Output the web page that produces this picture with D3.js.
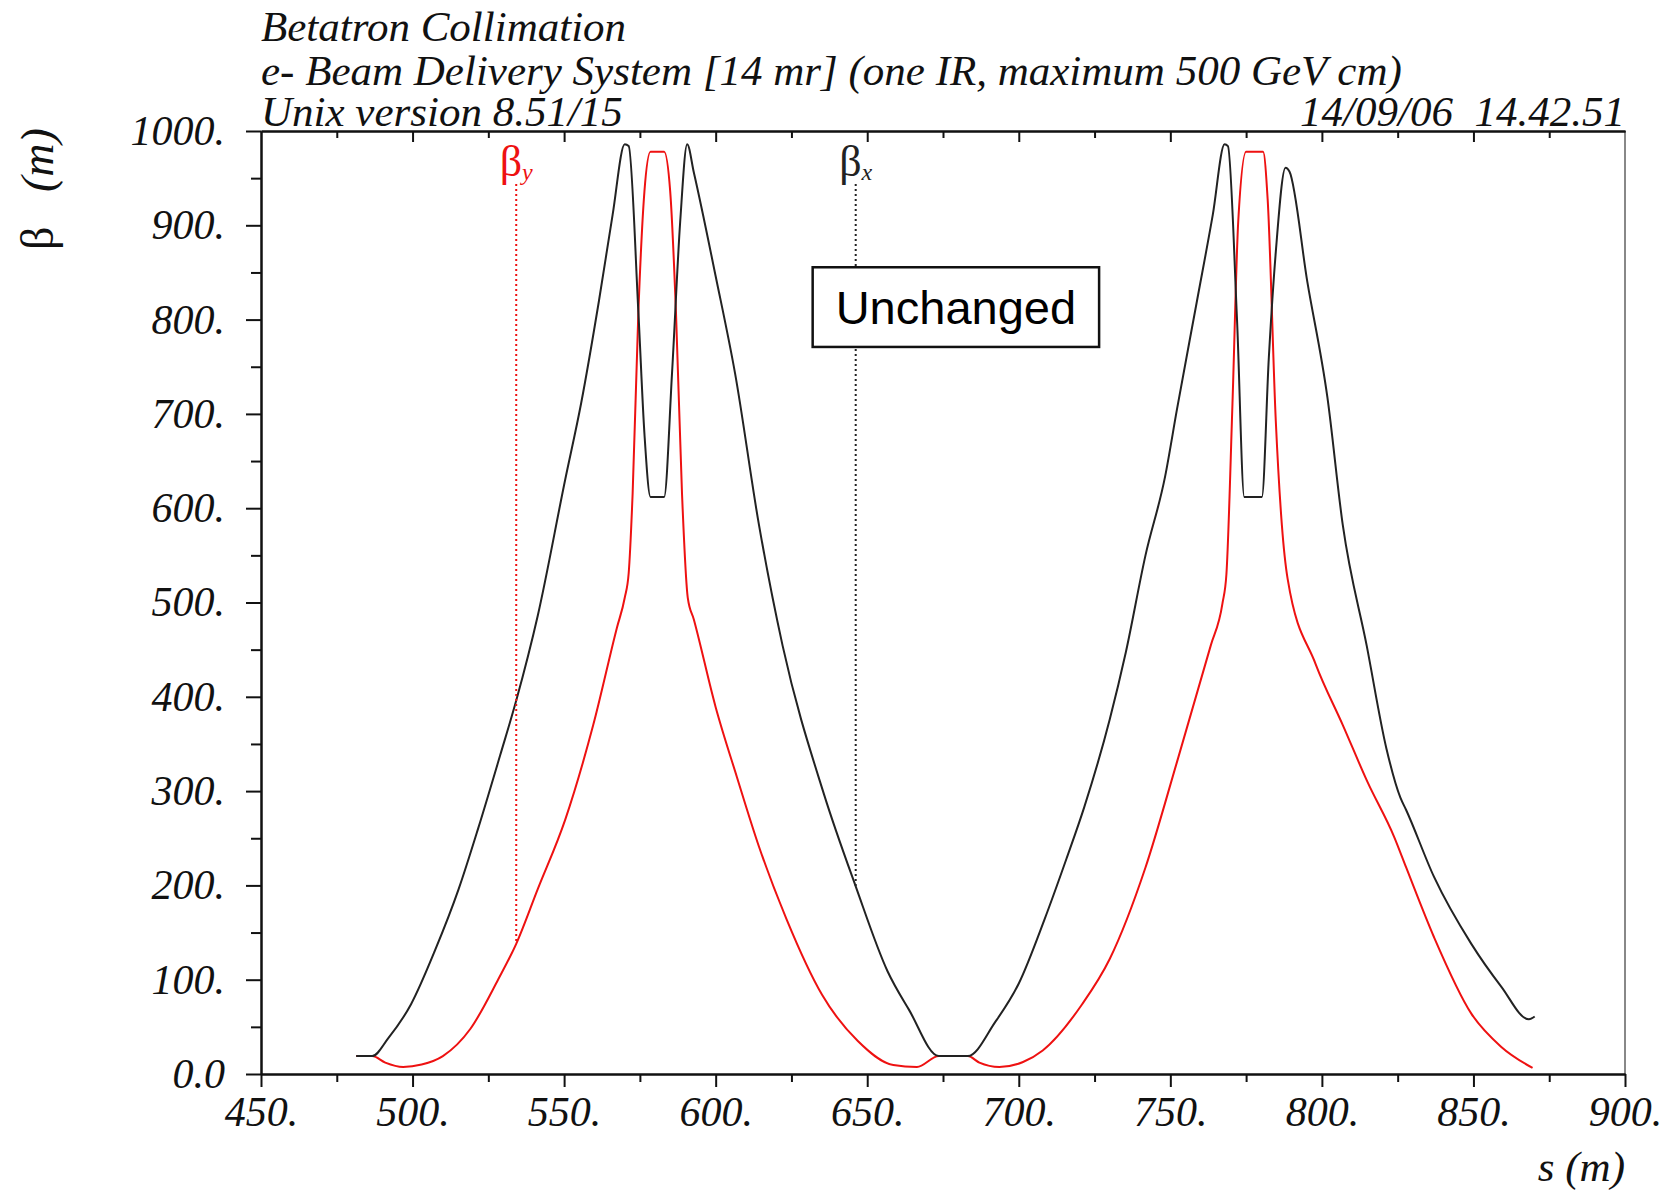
<!DOCTYPE html>
<html>
<head>
<meta charset="utf-8">
<script src="https://cdn.jsdelivr.net/npm/d3@7"></script>
<style>
  body { margin: 0; background: #fff; }
  svg { display: block; }
  .serif { font-family: "Liberation Serif", "Times New Roman", serif; font-style: italic; fill: #111; }
</style>
</head>
<body>
<svg id="chart" width="1669" height="1193"></svg>
<script>
// beta_x (black) : s (m) and beta (m)
var sX = [481.4, 486.7, 492, 499.5, 507.4, 515.2, 521.7, 528.9, 534.2, 541.3, 550.4, 555.6, 561.5, 566, 570, 571.3,
  574.5, 576.5, 578.5, 583, 585.6, 588.3, 590.6, 592.8, 600, 606.4, 614.3, 622.1, 635.8, 646.2, 656.7, 663.8, 673.6,
  683.2, 692.2, 700, 708.5, 715.7, 721.6, 730, 735.3, 741.8, 748.3, 752.2, 758.8, 764, 767.9, 769, 772, 774.4, 780.2,
  782.5, 784.8, 788, 789.3, 795.2, 801.8, 806.9, 814.8, 821.3, 825.9, 827.8, 837, 849.3, 859.1, 868.3, 870.2];
var betaX = [19, 19, 38, 74, 131, 196, 261, 338, 396, 486, 631, 711, 820, 911, 986, 984,
  808, 679, 612, 612, 743, 904, 986, 956, 846, 743, 582, 454, 296, 199, 109, 68, 19,
  19, 55, 96, 164, 228, 283, 376, 447, 550, 634, 705, 820, 911, 986, 984, 800, 612, 612,
  760, 872, 961, 957, 840, 718, 582, 454, 345, 293, 280, 209, 138, 93, 58, 61];

// beta_y (red)
var sY = [481.4, 486.7, 491, 496.9, 503, 510, 519.1, 528.2, 534.2, 541.3, 550.4, 559.6, 567.4, 570, 571.3, 572.6,
  574.5, 576.5, 578.5, 583, 585, 586.9, 588.9, 590.8, 592.8, 600, 607, 614.3, 623.4, 635.1, 646.9, 658.6, 666.4,
  673.6, 683.2, 687, 693.6, 701.4, 707.9, 720.9, 730, 741.8, 752.2, 763.3, 767.2, 768.5, 770.5, 772.4, 775, 780.6,
  782.1, 784.8, 786.8, 788.7, 797.9, 806.9, 815, 823.9, 827.8, 837, 849.3, 859.1, 869.5];
var betaY = [19, 19, 12, 7.4, 10, 19, 48, 100, 138, 196, 270, 370, 473, 505, 531, 615,
  808, 936, 978, 978, 936, 808, 615, 505, 482, 389, 315, 241, 164, 84, 35, 9.5, 7.4,
  19, 19, 12, 7.4, 12.7, 25, 74, 122, 219, 331, 454, 499, 530, 711, 904, 978, 978,
  928, 692, 582, 525, 435, 370, 310, 251, 219, 145, 64, 29, 6.4];

var xMajor = [450, 500, 550, 600, 650, 700, 750, 800, 850, 900];
var xMinor = [475, 525, 575, 625, 675, 725, 775, 825, 875];
var yMajor = [0, 100, 200, 300, 400, 500, 600, 700, 800, 900, 1000];
var yMinor = [50, 150, 250, 350, 450, 550, 650, 750, 850, 950];

var legendNames = ["y", "x"];
var legendS = [534.2, 646.2];
var legendColors = ["#ee1111", "#222"];

var titleLines = ["Betatron Collimation",
  "e- Beam Delivery System [14 mr] (one IR, maximum 500 GeV cm)",
  "Unix version 8.51/15"];
var dateText = "14/09/06  14.42.51";
var noteText = "Unchanged";
var noteBox = [632, 726.5, 855.5, 771]; // s0, s1, beta top, beta bottom

var padL = 261, padR = 1625, padT = 131, padB = 1074;
var x = d3.scaleLinear().domain([450, 900]).range([padL, padR]);
var y = d3.scaleLinear().domain([0, 1000]).range([padB, padT]);
var svg = d3.select("#chart");

function fmt(d) { return d === 0 ? "0.0" : d + "."; }

function interp(sArr, vArr, s) {
  for (var i = 1; i < sArr.length; i++) {
    if (sArr[i] >= s) {
      var t = (s - sArr[i - 1]) / (sArr[i] - sArr[i - 1]);
      return vArr[i - 1] + t * (vArr[i] - vArr[i - 1]);
    }
  }
  return vArr[vArr.length - 1];
}

function styleAxis(g) {
  g.selectAll("path.domain").attr("stroke", "#111").attr("stroke-width", 2);
  g.selectAll(".tick line").attr("stroke", "#111").attr("stroke-width", 2);
  g.selectAll(".tick text").attr("class", "serif").attr("font-size", 42).attr("fill", "#111");
  g.attr("font-family", null).attr("font-size", null);
}

// right frame
svg.append("line").attr("x1", padR).attr("x2", padR).attr("y1", padT).attr("y2", padB)
  .attr("stroke", "#888").attr("stroke-width", 2);

// top axis (ticks inward)
svg.append("g").attr("transform", "translate(0," + padT + ")")
  .call(d3.axisTop(x).tickValues(xMinor).tickSize(-7).tickFormat("").tickSizeOuter(0)).call(styleAxis);
svg.append("g").attr("transform", "translate(0," + padT + ")")
  .call(d3.axisTop(x).tickValues(xMajor.slice(1, -1)).tickSize(-11).tickFormat("").tickSizeOuter(0)).call(styleAxis);

// bottom axis
svg.append("g").attr("transform", "translate(0," + padB + ")")
  .call(d3.axisBottom(x).tickValues(xMinor).tickSize(8).tickFormat("").tickSizeOuter(0)).call(styleAxis);
svg.append("g").attr("transform", "translate(0," + padB + ")")
  .call(d3.axisBottom(x).tickValues(xMajor).tickSize(13).tickPadding(9).tickFormat(fmt).tickSizeOuter(0))
  .call(styleAxis);

// left axis
svg.append("g").attr("transform", "translate(" + padL + ",0)")
  .call(d3.axisLeft(y).tickValues(yMinor).tickSize(10).tickFormat("").tickSizeOuter(0)).call(styleAxis);
svg.append("g").attr("transform", "translate(" + padL + ",0)")
  .call(d3.axisLeft(y).tickValues(yMajor).tickSize(15).tickPadding(21).tickFormat(fmt).tickSizeOuter(0))
  .call(styleAxis);

// curves
var line = d3.line().curve(d3.curveMonotoneX)
  .x(function(d) { return x(d[0]); }).y(function(d) { return y(d[1]); });
svg.append("path").datum(d3.zip(sY, betaY)).attr("d", line)
  .attr("fill", "none").attr("stroke", "#ee1111").attr("stroke-width", 2).attr("stroke-linejoin", "round");
svg.append("path").datum(d3.zip(sX, betaX)).attr("d", line)
  .attr("fill", "none").attr("stroke", "#222").attr("stroke-width", 2).attr("stroke-linejoin", "round");

// legend markers: dotted line from label down to the curve
var series = [[sY, betaY], [sX, betaX]];
legendNames.forEach(function(name, i) {
  var s = legendS[i];
  var endV = interp(series[i][0], series[i][1], s);
  svg.append("line").attr("x1", x(s)).attr("x2", x(s)).attr("y1", 184).attr("y2", y(endV))
    .attr("stroke", legendColors[i]).attr("stroke-width", 2).attr("stroke-dasharray", "2,3");
  var t = svg.append("text").attr("x", x(s)).attr("y", 176).attr("text-anchor", "middle")
    .attr("font-family", "'Liberation Serif', 'Times New Roman', serif").attr("font-size", 44)
    .attr("fill", legendColors[i]);
  t.append("tspan").text("\u03b2");
  t.append("tspan").attr("font-size", 24).attr("font-style", "italic").attr("dy", 4).text(name);
});

// note box
svg.append("rect").attr("x", x(noteBox[0])).attr("y", y(noteBox[2]))
  .attr("width", x(noteBox[1]) - x(noteBox[0])).attr("height", y(noteBox[3]) - y(noteBox[2]))
  .attr("fill", "#fff").attr("stroke", "#111").attr("stroke-width", 2.5);
svg.append("text").attr("x", (x(noteBox[0]) + x(noteBox[1])) / 2).attr("y", 324)
  .attr("text-anchor", "middle").attr("font-family", "'Liberation Sans', Arial, sans-serif")
  .attr("font-size", 47).attr("fill", "#000").text(noteText);

// titles
var baselines = [41, 85, 126];
titleLines.forEach(function(txt, i) {
  svg.append("text").attr("class", "serif").attr("x", padL).attr("y", baselines[i])
    .attr("font-size", 43).text(txt);
});
svg.append("text").attr("class", "serif").attr("x", padR).attr("y", 126)
  .attr("text-anchor", "end").attr("font-size", 43).attr("xml:space", "preserve").text(dateText);

// axis titles
svg.append("text").attr("class", "serif").attr("x", padR).attr("y", 1181)
  .attr("text-anchor", "end").attr("font-size", 43).text("s (m)");
var yt = svg.append("text").attr("transform", "translate(53,189) rotate(-90)")
  .attr("text-anchor", "middle").attr("font-family", "'Liberation Serif', 'Times New Roman', serif")
  .attr("font-size", 46).attr("fill", "#111").attr("xml:space", "preserve");
yt.append("tspan").text("\u03b2   ");
yt.append("tspan").attr("font-style", "italic").text("(m)");
</script>
</body>
</html>
